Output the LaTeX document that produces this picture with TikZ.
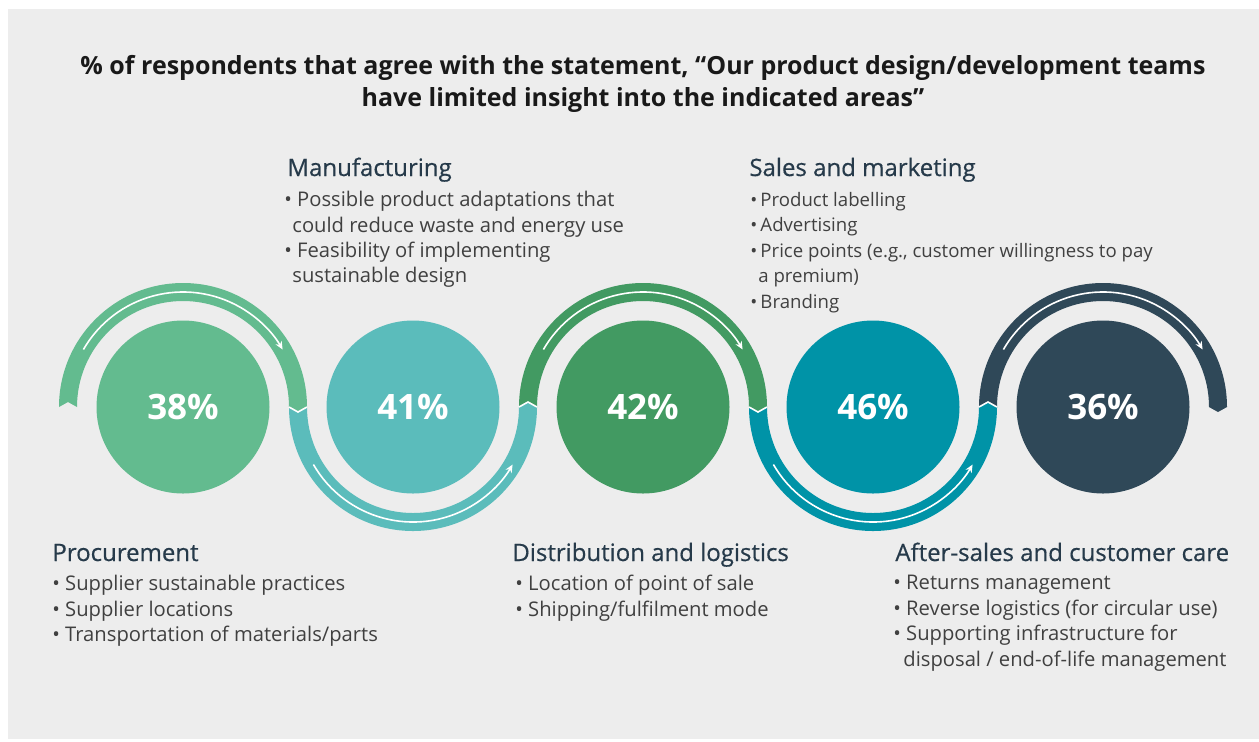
\documentclass[tikz,border=0pt]{standalone}
\usepackage{fontspec}
\setmainfont{Open Sans}
\newfontfamily\headfont[FakeBold=0.5]{Open Sans}
\usetikzlibrary{arrows.meta,positioning}

\definecolor{bggray}{HTML}{EDEDED}
\definecolor{procgreen}{HTML}{63BB8F}
\definecolor{manufteal}{HTML}{5BBCBB}
\definecolor{distgreen}{HTML}{429A62}
\definecolor{salesblue}{HTML}{0093A7}
\definecolor{afterslate}{HTML}{2F4858}
\definecolor{headblue}{HTML}{263A4A}
\definecolor{bulletgray}{HTML}{404040}

\tikzstyle{pctcircle} = [circle, minimum size=86.5pt, inner sep=0pt, text=white, font=\fontsize{17.5}{20}\selectfont\bfseries]
\tikzstyle{heading} = [anchor=base west, inner sep=0pt, text=headblue, font=\fontsize{12}{14}\selectfont\headfont]
\tikzstyle{bullets} = [anchor=north west, inner sep=0pt, align=left, text=bulletgray, font=\fontsize{10.1}{12.7}\selectfont]
\tikzstyle{flowarrow} = [white, line width=0.8pt, -{Stealth[length=4pt,width=3.5pt]}]
\tikzstyle{joint} = [white, line width=0.8pt]

% ring halves round a circle node: #1 node, #2 colour
\newcommand{\ringup}[2]{%
  \fill[#2] (#1.center) ++(-124,0) -- ++(9,-5) -- ++(9,5)
    arc[start angle=180, end angle=360, radius=106] -- ++(9,5) -- ++(9,-5)
    arc[start angle=0, end angle=-180, radius=124] -- cycle;}
\newcommand{\ringdown}[2]{%
  \fill[#2] (#1.center) ++(-124,0) -- ++(9,5) -- ++(9,-5)
    arc[start angle=180, end angle=0, radius=106] -- ++(9,-5) -- ++(9,5)
    arc[start angle=0, end angle=180, radius=124] -- cycle;}

\begin{document}
\begin{tikzpicture}[x=0.5pt, y=-0.5pt]
	\useasboundingbox (0,0) rectangle (1259,741);
	\fill[bggray] (8,9) rectangle (1259,739);

	\node[align=center, inner sep=0pt, font=\fontsize{12.5}{16}\selectfont\bfseries, text=black!90] (title) at (643,84)
		{\% of respondents that agree with the statement, “Our product design/development teams\\ have limited insight into the indicated areas”};

	% circles
	\node[pctcircle, fill=procgreen] (procure) at (183,407) {38\%};
	\node[pctcircle, fill=manufteal] (manuf) at (413,407) {41\%};
	\node[pctcircle, fill=distgreen] (distrib) at (643,407) {42\%};
	\node[pctcircle, fill=salesblue] (sales) at (873,407) {46\%};
	\node[pctcircle, fill=afterslate] (aftersales) at (1103,407) {36\%};

	% rings
	\ringup{procure}{procgreen}
	\ringdown{manuf}{manufteal}
	\ringup{distrib}{distgreen}
	\ringdown{sales}{salesblue}
	\ringup{aftersales}{afterslate}

	\draw[joint] ([shift={(106,0)}]procure.center) -- ++(9,5) -- ++(9,-5);
	\draw[joint] ([shift={(106,0)}]manuf.center) -- ++(9,-5) -- ++(9,5);
	\draw[joint] ([shift={(106,0)}]distrib.center) -- ++(9,5) -- ++(9,-5);
	\draw[joint] ([shift={(106,0)}]sales.center) -- ++(9,-5) -- ++(9,5);

	\draw[flowarrow] ([shift={(210:115)}]procure.center) arc[start angle=210, end angle=330, radius=115];
	\draw[flowarrow] ([shift={(150:115)}]manuf.center) arc[start angle=150, end angle=30, radius=115];
	\draw[flowarrow] ([shift={(210:115)}]distrib.center) arc[start angle=210, end angle=330, radius=115];
	\draw[flowarrow] ([shift={(150:115)}]sales.center) arc[start angle=150, end angle=30, radius=115];
	\draw[flowarrow] ([shift={(210:115)}]aftersales.center) arc[start angle=210, end angle=330, radius=115];

	% texts
	\node[heading] (manufhead) at (287,176) {Manufacturing};
	\node[bullets] (manuftext) at (284,191) {\textbullet\ Possible product adaptations that\\
		\hspace*{4pt}could reduce waste and energy use\\
		\textbullet\ Feasibility of implementing\\
		\hspace*{4pt}sustainable design};

	\node[heading] (saleshead) at (749,176) {Sales and marketing};
	\node[bullets, font=\fontsize{9.3}{12.7}\selectfont] (salestext) at (750,192) {\textbullet\,Product labelling\\
		\textbullet\,Advertising\\
		\textbullet\,Price points (e.g., customer willingness to pay\\
		\hspace*{4pt}a premium)\\
		\textbullet\,Branding};

	\node[heading] (procurehead) at (52,561) {Procurement};
	\node[bullets] (procuretext) at (52,575) {\textbullet\ Supplier sustainable practices\\
		\textbullet\ Supplier locations\\
		\textbullet\ Transportation of materials/parts};

	\node[heading] (distribhead) at (512,561) {Distribution and logistics};
	\node[bullets] (distribtext) at (515,575) {\textbullet\ Location of point of sale\\
		\textbullet\ Shipping/fulfilment mode};

	\node[heading] (afterhead) at (895,561) {After-sales and customer care};
	\node[bullets] (aftertext) at (893,575) {\textbullet\ Returns management\\
		\textbullet\ Reverse logistics (for circular use)\\
		\textbullet\ Supporting infrastructure for\\
		\hspace*{5pt}disposal / end-of-life management};
\end{tikzpicture}
\end{document}
